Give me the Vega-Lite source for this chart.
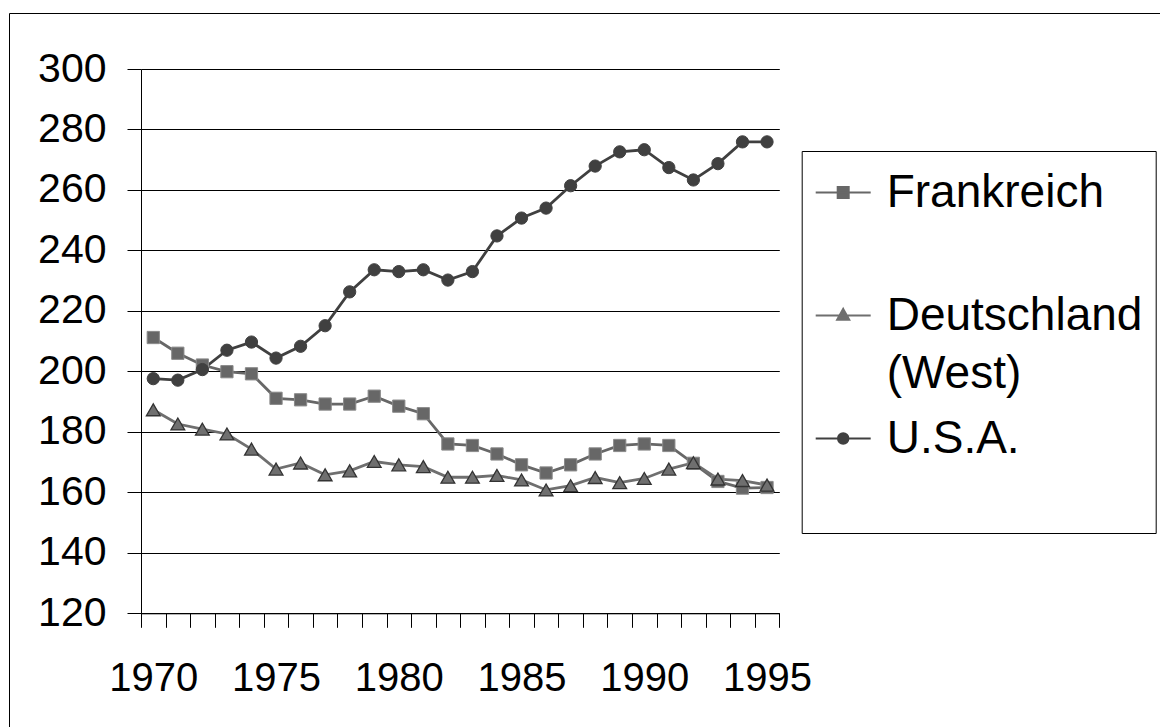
{
  "$schema": "https://vega.github.io/schema/vega-lite/v6.json",
  "width": 1160,
  "height": 720,
  "autosize": {"type": "none"},
  "padding": {"left": 9, "top": 13, "right": 0, "bottom": 0},
  "background": "white",
  "config": {
    "view": {"stroke": "black", "strokeWidth": 1},
    "font": "Liberation Sans"
  },
  "data": {"values": [
    {"year":1970,"land":"Frankreich","v":211.2},{"year":1971,"land":"Frankreich","v":206.0},{"year":1972,"land":"Frankreich","v":202.1},{"year":1973,"land":"Frankreich","v":199.9},{"year":1974,"land":"Frankreich","v":199.2},{"year":1975,"land":"Frankreich","v":191.1},{"year":1976,"land":"Frankreich","v":190.6},{"year":1977,"land":"Frankreich","v":189.2},{"year":1978,"land":"Frankreich","v":189.2},{"year":1979,"land":"Frankreich","v":191.8},{"year":1980,"land":"Frankreich","v":188.5},{"year":1981,"land":"Frankreich","v":186.0},{"year":1982,"land":"Frankreich","v":176.0},{"year":1983,"land":"Frankreich","v":175.5},{"year":1984,"land":"Frankreich","v":172.7},{"year":1985,"land":"Frankreich","v":169.1},{"year":1986,"land":"Frankreich","v":166.4},{"year":1987,"land":"Frankreich","v":169.1},{"year":1988,"land":"Frankreich","v":172.7},{"year":1989,"land":"Frankreich","v":175.5},{"year":1990,"land":"Frankreich","v":176.0},{"year":1991,"land":"Frankreich","v":175.5},{"year":1992,"land":"Frankreich","v":169.6},{"year":1993,"land":"Frankreich","v":163.6},{"year":1994,"land":"Frankreich","v":161.4},{"year":1995,"land":"Frankreich","v":161.6},
    {"year":1970,"land":"Deutschland (West)","v":187.3},{"year":1971,"land":"Deutschland (West)","v":182.6},{"year":1972,"land":"Deutschland (West)","v":180.9},{"year":1973,"land":"Deutschland (West)","v":179.3},{"year":1974,"land":"Deutschland (West)","v":174.3},{"year":1975,"land":"Deutschland (West)","v":167.7},{"year":1976,"land":"Deutschland (West)","v":169.7},{"year":1977,"land":"Deutschland (West)","v":165.8},{"year":1978,"land":"Deutschland (West)","v":167.1},{"year":1979,"land":"Deutschland (West)","v":170.2},{"year":1980,"land":"Deutschland (West)","v":169.1},{"year":1981,"land":"Deutschland (West)","v":168.5},{"year":1982,"land":"Deutschland (West)","v":165.0},{"year":1983,"land":"Deutschland (West)","v":165.0},{"year":1984,"land":"Deutschland (West)","v":165.6},{"year":1985,"land":"Deutschland (West)","v":164.1},{"year":1986,"land":"Deutschland (West)","v":160.8},{"year":1987,"land":"Deutschland (West)","v":162.2},{"year":1988,"land":"Deutschland (West)","v":164.9},{"year":1989,"land":"Deutschland (West)","v":163.2},{"year":1990,"land":"Deutschland (West)","v":164.6},{"year":1991,"land":"Deutschland (West)","v":167.7},{"year":1992,"land":"Deutschland (West)","v":169.8},{"year":1993,"land":"Deutschland (West)","v":164.4},{"year":1994,"land":"Deutschland (West)","v":163.9},{"year":1995,"land":"Deutschland (West)","v":162.4},
    {"year":1970,"land":"U.S.A.","v":197.6},{"year":1971,"land":"U.S.A.","v":197.1},{"year":1972,"land":"U.S.A.","v":200.6},{"year":1973,"land":"U.S.A.","v":207.0},{"year":1974,"land":"U.S.A.","v":209.7},{"year":1975,"land":"U.S.A.","v":204.4},{"year":1976,"land":"U.S.A.","v":208.3},{"year":1977,"land":"U.S.A.","v":215.1},{"year":1978,"land":"U.S.A.","v":226.3},{"year":1979,"land":"U.S.A.","v":233.6},{"year":1980,"land":"U.S.A.","v":233.0},{"year":1981,"land":"U.S.A.","v":233.6},{"year":1982,"land":"U.S.A.","v":230.2},{"year":1983,"land":"U.S.A.","v":233.0},{"year":1984,"land":"U.S.A.","v":244.8},{"year":1985,"land":"U.S.A.","v":250.7},{"year":1986,"land":"U.S.A.","v":254.0},{"year":1987,"land":"U.S.A.","v":261.4},{"year":1988,"land":"U.S.A.","v":267.9},{"year":1989,"land":"U.S.A.","v":272.6},{"year":1990,"land":"U.S.A.","v":273.3},{"year":1991,"land":"U.S.A.","v":267.4},{"year":1992,"land":"U.S.A.","v":263.3},{"year":1993,"land":"U.S.A.","v":268.7},{"year":1994,"land":"U.S.A.","v":275.9},{"year":1995,"land":"U.S.A.","v":275.9}
  ]},
  "encoding": {
    "x": {
      "field": "year", "type": "quantitative",
      "scale": {"domain": [1969.5, 1995.5], "range": [132, 770.3], "nice": false, "zero": false},
      "axis": {
        "title": null,
        "orient": "bottom",
        "offset": -119.7,
        "values": [1969.5,1970.5,1971.5,1972.5,1973.5,1974.5,1975.5,1976.5,1977.5,1978.5,1979.5,1980.5,1981.5,1982.5,1983.5,1984.5,1985.5,1986.5,1987.5,1988.5,1989.5,1990.5,1991.5,1992.5,1993.5,1994.5,1995.5],
        "labelExpr": "(datum.value + 0.5) % 5 == 0 ? toString(datum.value + 0.5) : ''",
        "labelOffset": 12.27,
        "labelOverlap": false,
        "labelFlush": false,
        "labelBound": false,
        "grid": false,
        "domainColor": "black",
        "domainWidth": 1,
        "tickColor": "black",
        "tickWidth": 1,
        "tickSize": 14,
        "labelFontSize": 40,
        "labelFont": "Liberation Sans",
        "labelColor": "black",
        "labelPadding": 31
      }
    },
    "y": {
      "field": "v", "type": "quantitative",
      "scale": {"domain": [120, 300], "range": [600.3, 56], "nice": false, "zero": false},
      "axis": {
        "title": null,
        "orient": "left",
        "offset": -132,
        "values": [120,140,160,180,200,220,240,260,280,300],
        "grid": true,
        "gridColor": "black",
        "gridWidth": 1,
        "domainColor": "black",
        "domainWidth": 1,
        "tickColor": "black",
        "tickWidth": 1,
        "tickSize": 14,
        "labelFontSize": 41,
        "labelFont": "Liberation Sans",
        "labelColor": "black",
        "labelPadding": 21,
        "labelOverlap": false,
        "labelFlush": false,
        "labelBound": false
      }
    },
    "color": {
      "field": "land", "type": "nominal",
      "scale": {"domain": ["Frankreich", "Deutschland (West)", "U.S.A."], "range": ["#676767", "#6f6f6f", "#404040"]},
      "legend": {
        "title": null,
        "orient": "none",
        "legendX": 792.7,
        "legendY": 138,
        "strokeColor": "black",
        "fillColor": "white",
        "padding": 13,
        "symbolSize": 3025,
        "symbolStrokeWidth": 2,
        "labelFontSize": 46,
        "labelFont": "Liberation Sans",
        "labelColor": "black",
        "labelLimit": 600,
        "labelOffset": 15,
        "rowPadding": 13,
        "labelExpr": "datum.label == 'Deutschland (West)' ? ['Deutschland', '(West)'] : [datum.label, '']",
        "encode": {
          "symbols": {"update": {
            "shape": {"signal": "datum.value == 'Frankreich' ? 'M-1,0H1M-0.2,-0.2H0.2V0.2H-0.2Z' : datum.value == 'U.S.A.' ? 'M-1,0H1M0.19,0A0.19,0.19,0,1,1,-0.19,0A0.19,0.19,0,1,1,0.19,0Z' : 'M-1,0H1M0,-0.24L0.22,0.15H-0.22Z'"},
            "fill": {"scale": "color", "field": "value"},
            "stroke": {"scale": "color", "field": "value"},
            "opacity": {"value": 1}
          }},
          "labels": {"update": {"lineHeight": {"value": 58}}}
        }
      }
    }
  },
  "layer": [
    {
      "mark": {"type": "line", "strokeWidth": 2.8}
    },
    {
      "transform": [{"filter": "datum.land == 'Frankreich'"}],
      "mark": {"type": "point", "shape": "square", "filled": true, "size": 150, "opacity": 1, "stroke": "#8a8a8a", "strokeWidth": 1}
    },
    {
      "transform": [{"filter": "datum.land == 'Deutschland (West)'"}],
      "mark": {"type": "point", "shape": "triangle-up", "filled": true, "size": 190, "opacity": 1, "stroke": "#333333", "strokeWidth": 1.3}
    },
    {
      "transform": [{"filter": "datum.land == 'U.S.A.'"}],
      "mark": {"type": "point", "shape": "circle", "filled": true, "size": 150, "opacity": 1, "stroke": "#404040", "strokeWidth": 1}
    }
  ]
}
